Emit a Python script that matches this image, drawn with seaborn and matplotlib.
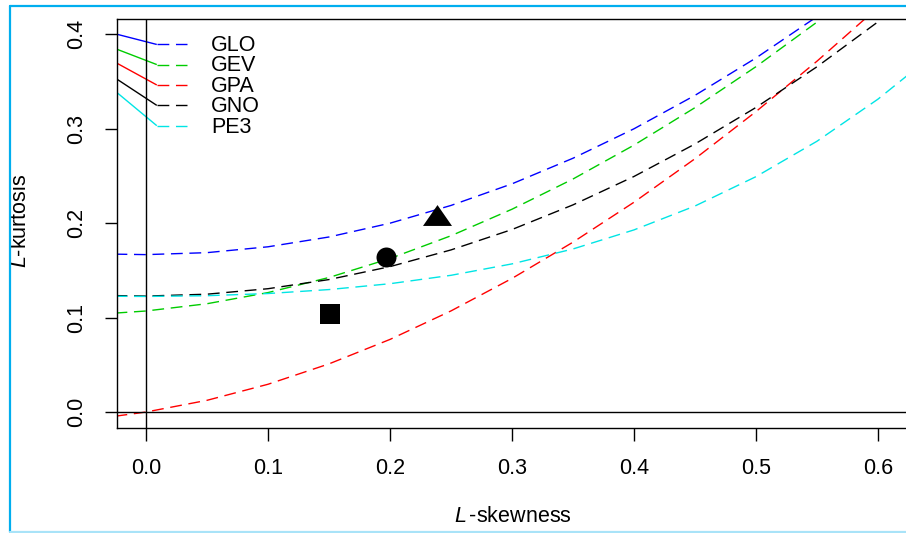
import numpy as np
import pandas as pd
import matplotlib
matplotlib.use("Agg")
import matplotlib.pyplot as plt
from matplotlib.lines import Line2D
from matplotlib.path import Path
import seaborn as sns

# L-moment ratio curves
tau3 = [-0.025, 0.0, 0.05, 0.1, 0.15, 0.2, 0.25, 0.3, 0.35, 0.4, 0.45, 0.5, 0.55, 0.6, 0.65]
glo = [0.1672, 0.1667, 0.1688, 0.1750, 0.1854, 0.2000, 0.2188, 0.2417, 0.2688, 0.3000, 0.3354, 0.3750, 0.4188, 0.4667, 0.5188]
gev = [0.1048, 0.1070, 0.1147, 0.1265, 0.1425, 0.1626, 0.1867, 0.2148, 0.2468, 0.2827, 0.3224, 0.3658, 0.4130, 0.4638, 0.5200]
gpa = [-0.0044, 0.0, 0.0124, 0.0294, 0.0510, 0.0769, 0.1071, 0.1415, 0.1799, 0.2222, 0.2683, 0.3182, 0.3716, 0.4286, 0.4890]
gno = [0.1233, 0.1228, 0.1248, 0.1306, 0.1403, 0.1540, 0.1717, 0.1933, 0.2194, 0.2495, 0.2839, 0.3226, 0.3657, 0.4133, 0.4657]
pe3 = [0.1226, 0.1224, 0.1232, 0.1255, 0.1297, 0.1359, 0.1448, 0.1569, 0.1727, 0.1929, 0.2182, 0.2493, 0.2868, 0.3314, 0.3835]

dist_names = ["GLO", "GEV", "GPA", "GNO", "PE3"]
dist_colors = ["#0000FF", "#00CC00", "#FF0000", "#000000", "#00E5E5"]

# key: leader line heights at the left edge and at the dashed stub
key_start = [0.4001, 0.3842, 0.3694, 0.3525, 0.3383]
key_level = [0.3893, 0.3680, 0.3464, 0.3248, 0.3033]

# sample points (L-skewness, L-kurtosis)
site_skew = [0.1504, 0.1967, 0.2385]
site_kurt = [0.1042, 0.1637, 0.2085]

x_ticks = [0.0, 0.1, 0.2, 0.3, 0.4, 0.5, 0.6]
y_ticks = [0.0, 0.1, 0.2, 0.3, 0.4]

sns.set_theme(style="white")
plt.rcParams['font.family'] = ['Liberation Sans', 'DejaVu Sans']
plt.rcParams['text.color'] = 'black'
plt.rcParams['mathtext.fontset'] = 'custom'
plt.rcParams['mathtext.rm'] = 'Liberation Sans'
plt.rcParams['mathtext.it'] = 'Liberation Sans:italic'

FS = 15.5
W, H = 906, 533
fig = plt.figure(figsize=(W / 100, H / 100), dpi=100)
fig.patch.set_facecolor("white")

# axes box in pixels: left 117, right 908, top 18.5, bottom 427.5
ax = fig.add_axes([117 / W, 1 - 427.5 / H, (908 - 117) / W, (427.5 - 18.5) / H])
ax.set_facecolor("white")

curves = pd.DataFrame({"tau3": tau3, "GLO": glo, "GEV": gev, "GPA": gpa, "GNO": gno, "PE3": pe3})
curves = curves.melt(id_vars="tau3", var_name="dist", value_name="tau4")

dash = (0, (8.5, 4.8))
for name, color in zip(dist_names, dist_colors):
    sub = curves[curves["dist"] == name]
    sns.lineplot(data=sub, x="tau3", y="tau4", color=color, lw=1.0,
                 linestyle=dash, sort=False, errorbar=None, ax=ax)

# key
x_left, x_stub0, x_stub1, x_text = -0.0238, 0.0088, 0.0339, 0.0533
for name, color, y0, y1 in zip(dist_names, dist_colors, key_start, key_level):
    ax.plot([x_left, x_stub0], [y0, y1], color=color, lw=1.0, solid_capstyle="butt")
    ax.plot([x_stub0, x_stub1], [y1, y1], color=color, lw=1.0, linestyle=dash)
    ax.text(x_text, y1 - 0.0015, name, fontsize=FS, va="center", ha="left", color="black")

ax.axvline(0, color="black", lw=1.0)
ax.axhline(0, color="black", lw=1.0)

tri = Path([(-1, -0.72), (1, -0.72), (0, 0.72), (-1, -0.72)], closed=True)
site_markers = ["s", "o", tri]
site_sizes = [207, 207, 436]
for x, y, m, s in zip(site_skew, site_kurt, site_markers, site_sizes):
    sns.scatterplot(x=[x], y=[y], marker=m, s=s, color="black", linewidth=0, ax=ax, zorder=5)

ax.set_xlim(-0.0238, 0.6246)
ax.set_ylim(-0.0164, 0.4168)
ax.set_xticks(x_ticks)
ax.set_xticklabels([f"{v:.1f}" for v in x_ticks])
ax.set_yticks(y_ticks)
ax.set_yticklabels([f"{v:.1f}" for v in y_ticks], rotation=90, va="center")
ax.tick_params(axis="x", direction="out", bottom=True, length=9, width=1.0,
               color="black", labelsize=FS, pad=13, labelcolor="black")
ax.tick_params(axis="y", direction="out", left=True, length=9, width=1.0,
               color="black", labelsize=FS, pad=12.5, labelcolor="black")
for sp in ax.spines.values():
    sp.set_color("black")
    sp.set_linewidth(1.0)

ax.set_xlabel("$L\\,$-skewness", fontsize=FS, color="black", va="center")
ax.xaxis.set_label_coords(0.5, -0.2164)
ax.set_ylabel("$L$-kurtosis", fontsize=FS, color="black", va="center", ha="center")
ax.yaxis.set_label_coords(-0.1224, 0.505)

# frame around the picture
def px_line(x0, y0, x1, y1, color, lw):
    fig.add_artist(Line2D([x0 / W, x1 / W], [1 - y0 / H, 1 - y1 / H],
                          transform=fig.transFigure, color=color, lw=lw))

px_line(10, 6.3, W + 5, 6.3, "#00AEEF", 1.6)
px_line(10.3, 6.3, 10.3, 531.5, "#00AEEF", 1.6)
px_line(10, 531.5, W + 5, 531.5, "#A9E3F8", 1.6)

fig.savefig("out.png", dpi=100, facecolor="white")
